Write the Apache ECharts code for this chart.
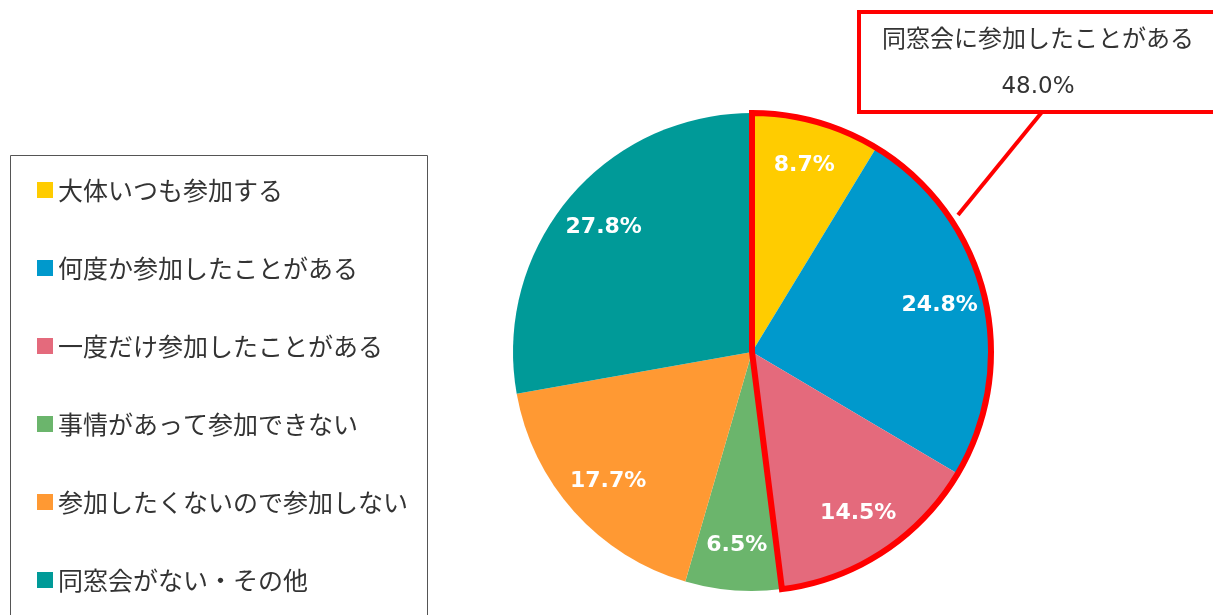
<!DOCTYPE html>
<html>
<head>
<meta charset="utf-8">
<script src="https://cdn.jsdelivr.net/npm/echarts@6/dist/echarts.min.js"></script>
<style>
  html, body { margin: 0; padding: 0; background: #fff; }
  #chart { width: 1213px; height: 615px; }
</style>
</head>
<body>
<div id="chart"></div>
<script>
var categories = ['大体いつも参加する', '何度か参加したことがある', '一度だけ参加したことがある',
                  '事情があって参加できない', '参加したくないので参加しない', '同窓会がない・その他'];
var values = [8.7, 24.8, 14.5, 6.5, 17.7, 27.8];
var colors = ['#FFCC00', '#0099CC', '#E46A7C', '#6BB56C', '#FF9933', '#009A98'];
var groupName = '同窓会に参加したことがある';
var groupCount = 3;

var font = '"Noto Sans CJK JP", "Noto Sans", sans-serif';
var numFont = '"DejaVu Sans", "Noto Sans CJK JP", sans-serif';

// 48.0% of the first three answers
var groupValue = 0;
for (var i = 0; i < groupCount; i++) groupValue += values[i];
groupValue = Math.round(groupValue * 10) / 10;
var restValue = Math.round((100 - groupValue) * 10) / 10;

var pieData = categories.map(function(name, i) {
    return { name: name, value: values[i], itemStyle: { color: colors[i] } };
});

var chart = echarts.init(document.getElementById('chart'));
var center = [752, 352];
var radius = 239;

option = {
    animation: false,
    legend: {
        orient: 'vertical',
        left: 32,
        top: 172,
        icon: 'rect',
        itemWidth: 16,
        itemHeight: 16,
        itemGap: 52,
        selectedMode: false,
        data: categories,
        textStyle: { fontFamily: font, fontSize: 25, color: '#333', lineHeight: 26 }
    },
    graphic: [
        {   // legend frame
            type: 'rect',
            shape: { x: 10.5, y: 155.5, width: 417, height: 480 },
            style: { fill: 'none', stroke: '#555', lineWidth: 1 },
            z: 0
        },
        {   // callout pointer
            type: 'line',
            shape: { x1: 958, y1: 215, x2: 1042, y2: 112 },
            style: { stroke: '#FF0000', lineWidth: 4 },
            z: 10
        },
        {   // callout box
            type: 'rect',
            shape: { x: 859, y: 12, width: 380, height: 100 },
            style: { fill: '#fff', stroke: '#FF0000', lineWidth: 4 },
            z: 11
        },
        {
            type: 'text',
            x: 1038, y: 38,
            style: { text: groupName, font: '24px ' + font, fill: '#333', align: 'center', verticalAlign: 'middle' },
            z: 12
        },
        {
            type: 'text',
            x: 1038, y: 87,
            style: { text: groupValue.toFixed(1) + '%', font: '23px ' + numFont, fill: '#333', align: 'center', verticalAlign: 'middle' },
            z: 12
        }
    ],
    series: [
        {
            type: 'pie',
            center: center,
            radius: [0, radius],
            startAngle: 90,
            clockwise: true,
            silent: true,
            label: { show: false },
            labelLine: { show: false },
            data: pieData,
            z: 1
        },
        {   // percentage labels placed out toward the rim
            type: 'pie',
            center: center,
            radius: [142, radius],
            startAngle: 90,
            clockwise: true,
            silent: true,
            itemStyle: { color: 'transparent' },
            label: {
                show: true,
                position: 'inside',
                formatter: function(p) { return p.value.toFixed(1) + '%'; },
                color: '#fff',
                fontFamily: numFont,
                fontWeight: 'bold',
                fontSize: 22
            },
            labelLine: { show: false },
            data: categories.map(function(name, i) { return { name: name, value: values[i] }; }),
            z: 3
        },
        {   // red outline around the "participated" group
            type: 'pie',
            center: center,
            radius: [0, radius],
            startAngle: 90,
            clockwise: true,
            silent: true,
            legendHoverLink: false,
            label: { show: false },
            labelLine: { show: false },
            data: [
                { name: groupName, value: groupValue,
                  itemStyle: { color: 'transparent', borderColor: '#FF0000', borderWidth: 6, borderJoin: 'miter' } },
                { name: 'rest', value: restValue, itemStyle: { color: 'transparent', borderWidth: 0 } }
            ],
            z: 5
        }
    ]
};

chart.setOption(option);
</script>
</body>
</html>
